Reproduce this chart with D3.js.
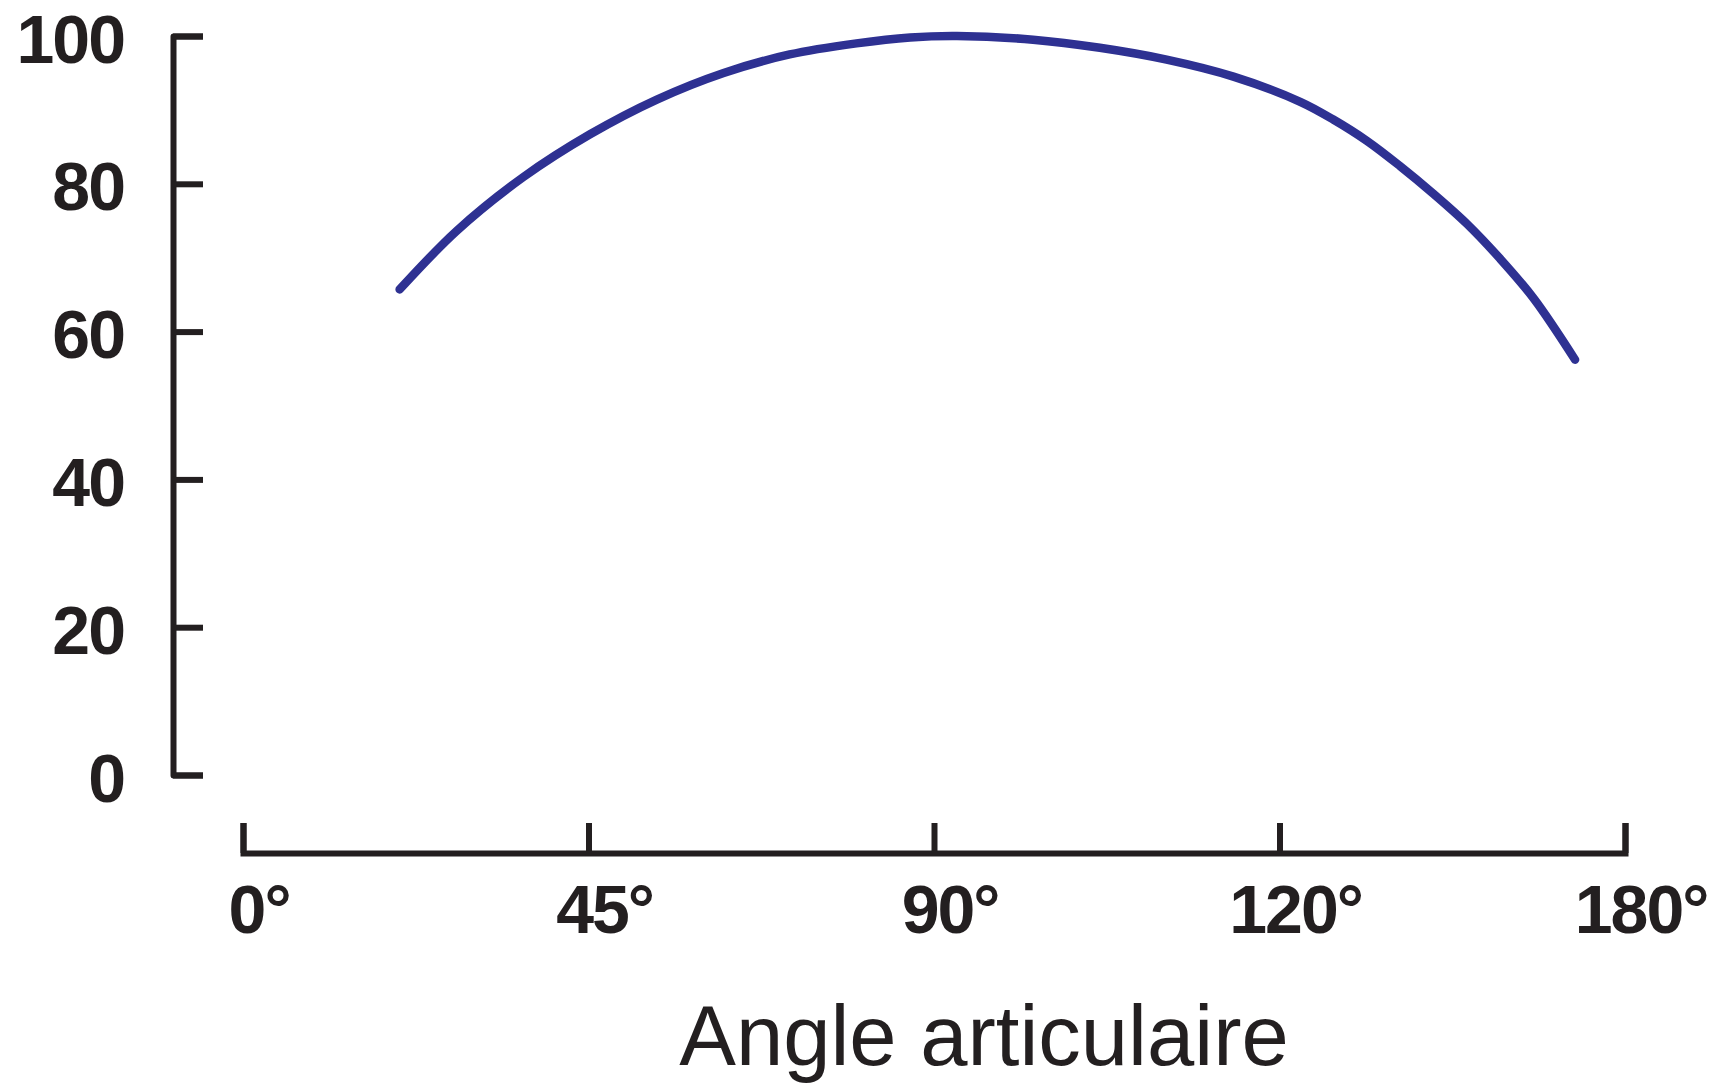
<!DOCTYPE html>
<html>
<head>
<meta charset="utf-8">
<script src="https://cdn.jsdelivr.net/npm/d3@7"></script>
<style>
  html, body { margin: 0; padding: 0; background: #ffffff; }
  svg { display: block; }
</style>
</head>
<body>
<svg id="chart" width="1717" height="1084"></svg>
<script>
// Relative force across the joint range (percent of maximum)
const angles = [20.4, 27.8, 36.5, 45.2, 53.9, 62.6, 71.2, 79.9, 86.9, 93.0, 102.9, 111.6, 120.3, 129.0, 137.7, 142.0, 146.4, 150.7, 155.0, 159.4, 163.7, 168.1, 173.5];
const values = [65.7, 73.6, 80.9, 86.7, 91.4, 95.0, 97.5, 99.0, 99.8, 100, 99.5, 98.4, 96.8, 94.5, 91.1, 88.7, 85.8, 82.4, 78.7, 74.6, 69.9, 64.5, 56.2];

// Axis ticks
const xTickAt = [0, 45, 90, 135, 180];
const xTickLabels = ["0°", "45°", "90°", "120°", "180°"];
const yTicks = [0, 20, 40, 60, 80, 100];
const xTitle = "Angle articulaire";

const ink = "#231f20";
const lineColor = "#2e3192";

const svg = d3.select("#chart");

const x = d3.scaleLinear().domain([0, 180]).range([243, 1625]);
const y = d3.scaleLinear().domain([0, 100]).range([775, 36]);

const tickFont = "'Liberation Sans', Arial, sans-serif";

// Vertical axis: bracket-shaped, ticks pointing into the plot
const yAxis = svg.append("g")
  .attr("transform", "translate(173,0)")
  .call(d3.axisRight(y).tickValues(yTicks).tickSize(30).tickSizeOuter(30).tickFormat(d3.format("d")));

yAxis.select(".domain").attr("stroke", ink).attr("stroke-width", 6).attr("stroke-linejoin", "round").attr("fill", "none");
yAxis.selectAll(".tick line").attr("stroke", ink).attr("stroke-width", 6);
yAxis.selectAll(".tick text")
  .attr("x", -49)
  .attr("dy", 26)
  .attr("text-anchor", "end")
  .attr("fill", ink)
  .style("font-family", tickFont)
  .style("font-weight", "bold")
  .style("font-size", "68px")
  .style("letter-spacing", "-2px");

// Horizontal axis: ticks pointing up, labels below
const xAxis = svg.append("g")
  .attr("transform", "translate(0,853)")
  .call(d3.axisTop(x).tickValues(xTickAt).tickSize(30).tickSizeOuter(30)
    .tickFormat((d, i) => xTickLabels[i]));

xAxis.select(".domain").attr("stroke", ink).attr("stroke-width", 6).attr("fill", "none");
xAxis.selectAll(".tick line").attr("stroke", ink).attr("stroke-width", 6);
xAxis.selectAll(".tick text")
  .attr("y", 80)
  .attr("dy", 0)
  .attr("fill", ink)
  .style("font-family", tickFont)
  .style("font-weight", "bold")
  .style("font-size", "68px")
  .style("letter-spacing", "-2px")
  .attr("text-anchor", "start")
  .each(function (d, i) {
    // centre the number on the tick, with the degree sign trailing
    const t = d3.select(this);
    const label = xTickLabels[i];
    const num = label.replace("°", "");
    t.text(num);
    const w = this.getComputedTextLength();
    t.text(label);
    t.attr("x", -w / 2 + 3);
  });

// Axis title
svg.append("text")
  .attr("x", 984)
  .attr("y", 1065)
  .attr("text-anchor", "middle")
  .attr("fill", ink)
  .style("font-family", tickFont)
  .style("font-size", "85px")
  .text(xTitle);

// Force curve, a smooth spline through the sampled values
const pts = angles.map((a, i) => [a, values[i]]);
const line = d3.line()
  .x(d => x(d[0]))
  .y(d => y(d[1]))
  .curve(d3.curveCatmullRom.alpha(0.5));

svg.append("path")
  .datum(pts)
  .attr("d", line)
  .attr("fill", "none")
  .attr("stroke", lineColor)
  .attr("stroke-width", 8.5)
  .attr("stroke-linecap", "round")
  .attr("stroke-linejoin", "round");
</script>
</body>
</html>
